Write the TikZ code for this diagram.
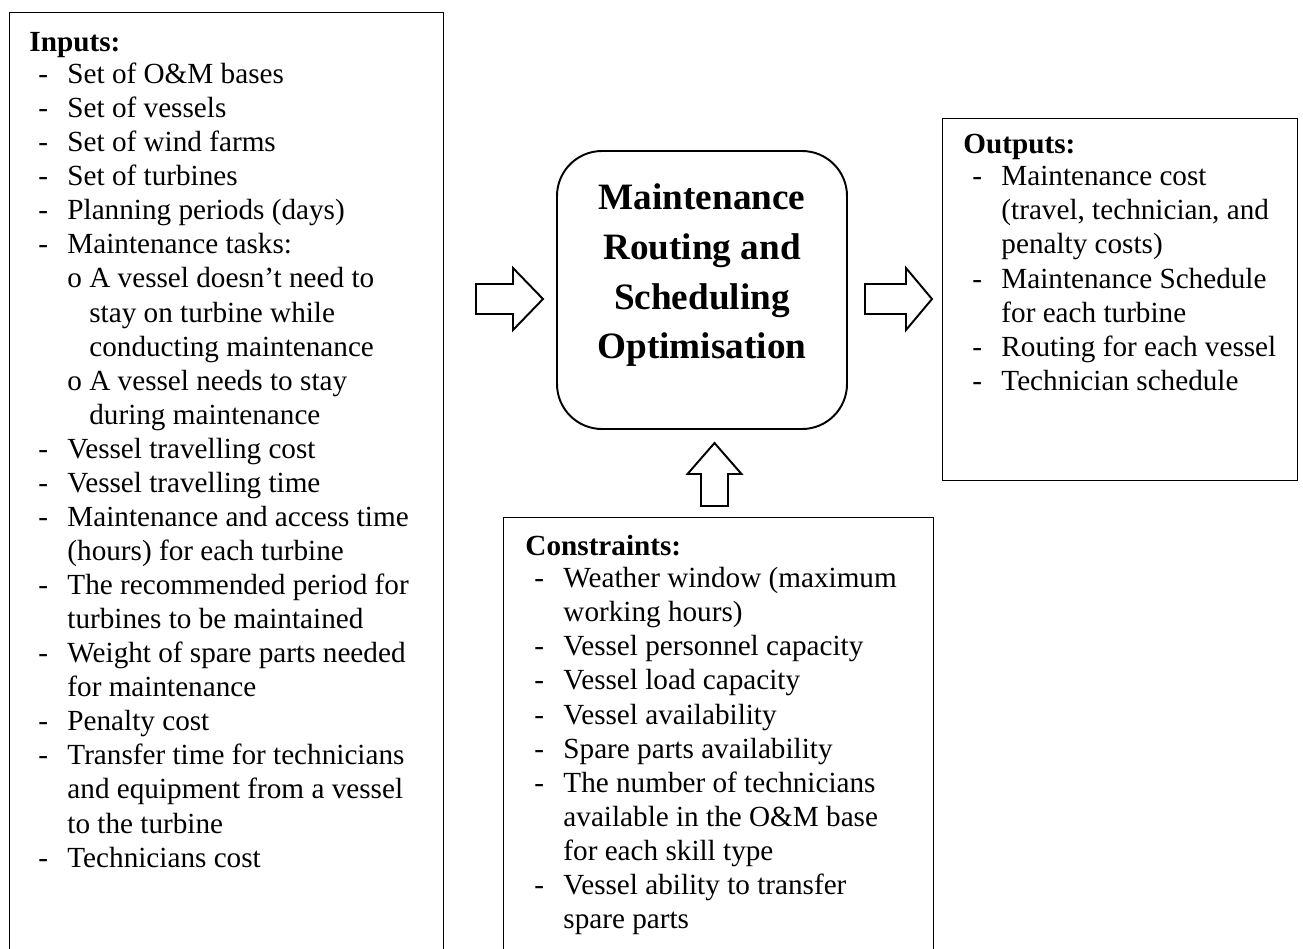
\documentclass[tikz,border=0pt]{standalone}
\usepackage{fontspec}
\setmainfont{Liberation Serif}
\newcommand{\px}{0.411pt}
\newcommand{\itm}[1]{\hspace*{3.7pt}\makebox[11.9pt][l]{-}#1}
\newcommand{\itmc}[1]{\hspace*{15.6pt}#1}
\newcommand{\subitm}[1]{\hspace*{15.6pt}\makebox[9pt][l]{o}#1}
\newcommand{\subitmc}[1]{\hspace*{24.6pt}#1}
\tikzset{
  listbox/.style={draw, line width=0.6pt, inner sep=0pt, anchor=north west},
  listtext/.style={anchor=north west, inner sep=0pt, align=left, font=\fontsize{12}{14}\selectfont},
  arrowline/.style={line width=0.8pt, line join=miter},
  pics/blockarrow/.style args={#1/#2/#3/#4}{code={
    \draw[arrowline] (0,-#3) -- (#2,-#3) -- (#2,-#4) -- (#1,0) -- (#2,#4) -- (#2,#3) -- (0,#3) -- cycle;
  }}
}
\begin{document}
\begin{tikzpicture}[x=\px,y=-\px]
    \useasboundingbox (0,0) rectangle (1303,949);
    % boxes
    \node[listbox, minimum width=178.37pt, minimum height=393.7pt] (inputs) at (9,12) {};
    \node[listbox, minimum width=145.9pt, minimum height=148.78pt] (outputs) at (942,118) {};
    \node[listbox, minimum width=176.73pt, minimum height=186.2pt] (constraints) at (503,517) {};
    \node[draw, line width=0.8pt, rounded corners=18.5pt, inner sep=0pt, minimum width=119.19pt, minimum height=114.26pt] (optim) at (702,290) {};
    \node[anchor=north, inner sep=0pt, align=center, font=\fontsize{15.3}{20.5}\selectfont\bfseries] (optimtext) at (702,183)
      {Maintenance\\ Routing and\\ Scheduling\\ Optimisation};
    % block arrows
    \foreach \ax/\hb in {476/37, 865/41}
    {
      \pic at (\ax,299) {blockarrow={67/\hb/15/31}};
    }
    \pic[rotate=90] at (714.5,506) {blockarrow={63/32/13.5/27}};
    % lists
    \node[listtext] (inputstext) at (29,32)
      {\textbf{Inputs:}\\[-0.85pt]
       \itm{Set of O\&M bases}\\
       \itm{Set of vessels}\\
       \itm{Set of wind farms}\\
       \itm{Set of turbines}\\
       \itm{Planning periods (days)}\\
       \itm{Maintenance tasks:}\\
       \subitm{A vessel doesn’t need to}\\
       \subitmc{stay on turbine while}\\
       \subitmc{conducting maintenance}\\
       \subitm{A vessel needs to stay}\\
       \subitmc{during maintenance}\\
       \itm{Vessel travelling cost}\\
       \itm{Vessel travelling time}\\
       \itm{Maintenance and access time}\\
       \itmc{(hours) for each turbine}\\
       \itm{The recommended period for}\\
       \itmc{turbines to be maintained}\\
       \itm{Weight of spare parts needed}\\
       \itmc{for maintenance}\\
       \itm{Penalty cost}\\
       \itm{Transfer time for technicians}\\
       \itmc{and equipment from a vessel}\\
       \itmc{to the turbine}\\
       \itm{Technicians cost}};
    \node[listtext] (outputstext) at (963,134)
      {\textbf{Outputs:}\\[-0.85pt]
       \itm{Maintenance cost}\\
       \itmc{(travel, technician, and}\\
       \itmc{penalty costs)}\\
       \itm{Maintenance Schedule}\\
       \itmc{for each turbine}\\
       \itm{Routing for each vessel}\\
       \itm{Technician schedule}};
    \node[listtext] (constraintstext) at (525,535)
      {\textbf{Constraints:}\\[-0.85pt]
       \itm{Weather window (maximum}\\
       \itmc{working hours)}\\
       \itm{Vessel personnel capacity}\\
       \itm{Vessel load capacity}\\
       \itm{Vessel availability}\\
       \itm{Spare parts availability}\\
       \itm{The number of technicians}\\
       \itmc{available in the O\&M base}\\
       \itmc{for each skill type}\\
       \itm{Vessel ability to transfer}\\
       \itmc{spare parts}};
\end{tikzpicture}
\end{document}
